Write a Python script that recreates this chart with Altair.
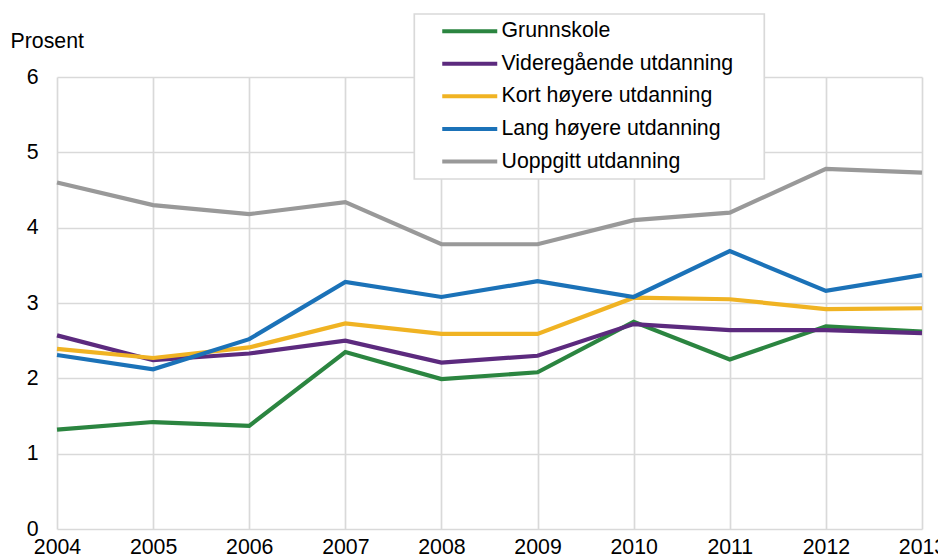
import altair as alt
import pandas as pd

years = [2004, 2005, 2006, 2007, 2008, 2009, 2010, 2011, 2012, 2013]
series_names = [
    "Grunnskole",
    "Videregående utdanning",
    "Kort høyere utdanning",
    "Lang høyere utdanning",
    "Uoppgitt utdanning",
]
grunnskole = [1.32, 1.42, 1.37, 2.35, 1.99, 2.08, 2.75, 2.25, 2.69, 2.62]
videregaende = [2.57, 2.24, 2.33, 2.50, 2.21, 2.30, 2.72, 2.64, 2.64, 2.60]
kort_hoyere = [2.39, 2.27, 2.41, 2.73, 2.59, 2.59, 3.07, 3.05, 2.92, 2.93]
lang_hoyere = [2.31, 2.12, 2.52, 3.28, 3.08, 3.29, 3.08, 3.69, 3.16, 3.37]
uoppgitt = [4.60, 4.30, 4.18, 4.34, 3.78, 3.78, 4.10, 4.20, 4.78, 4.73]
colors = ["#2b8540", "#5c2a7e", "#f0b323", "#1b72b8", "#999999"]
y_ticks = [0, 1, 2, 3, 4, 5, 6]

rows = []
for name, vals in zip(series_names, [grunnskole, videregaende, kort_hoyere, lang_hoyere, uoppgitt]):
    for yr, v in zip(years, vals):
        rows.append({"Utdanning": name, "År": yr, "Prosent": v})
df = pd.DataFrame(rows)

FONT = "Liberation Sans"
FS = 21.3
GRID = "#d9d9d9"
# trailing no-break spaces (kept from trimming by a zero-width char) widen the legend box
PAD_TAIL = "\u00a0" * 4 + "\u200b"

chart = (
    alt.Chart(df)
    .mark_line(strokeWidth=4.2)
    .encode(
        x=alt.X(
            "År:Q",
            scale=alt.Scale(domain=[2004, 2013], nice=False, zero=False),
            axis=alt.Axis(
                values=years,
                format="d",
                title=None,
                grid=True,
                gridColor=GRID,
                gridWidth=1.7,
                domain=False,
                ticks=False,
                tickSize=0,
                labelPadding=7.5,
                labelFont=FONT,
                labelFontSize=FS,
                labelColor="#000000",
                labelFlush=False,
                labelOverlap=False,
            ),
        ),
        y=alt.Y(
            "Prosent:Q",
            scale=alt.Scale(domain=[0, 6], nice=False),
            axis=alt.Axis(
                values=y_ticks,
                format="d",
                title="Prosent",
                titleAngle=0,
                titleAlign="left",
                titleBaseline="alphabetic",
                titleX=-47,
                titleY=-29.7,
                titleFont=FONT,
                titleFontSize=FS,
                titleFontWeight="normal",
                titleColor="#000000",
                grid=True,
                gridColor=GRID,
                gridWidth=1.7,
                domain=False,
                ticks=False,
                tickSize=0,
                labelPadding=19,
                labelFont=FONT,
                labelFontSize=FS,
                labelColor="#000000",
                labelBaseline="middle",
                labelFlush=False,
            ),
        ),
        color=alt.Color(
            "Utdanning:N",
            scale=alt.Scale(domain=series_names, range=colors),
            legend=alt.Legend(
                title=None,
                orient="none",
                legendX=357.3,
                legendY=-63,
                fillColor="#ffffff",
                strokeColor=GRID,
                padding=6.5,
                rowPadding=10.6,
                symbolType="M2.16,0H13.16",
                symbolSize=100,
                symbolStrokeWidth=4,
                labelFont=FONT,
                labelFontSize=FS,
                labelColor="#000000",
                labelOffset=59.4,
                labelLimit=0,
                labelExpr="datum.label + '" + PAD_TAIL + "'",
            ),
        ),
    )
    .properties(
        width=865,
        height=452,
        autosize=alt.AutoSizeParams(type="none"),
        padding={"left": 49, "top": 69, "right": 16, "bottom": 26},
    )
    .configure_view(stroke=None)
    .configure_legend(strokeWidth=1.7)
)

chart.save("out.html", embed_options={"renderer": "svg", "actions": False})
